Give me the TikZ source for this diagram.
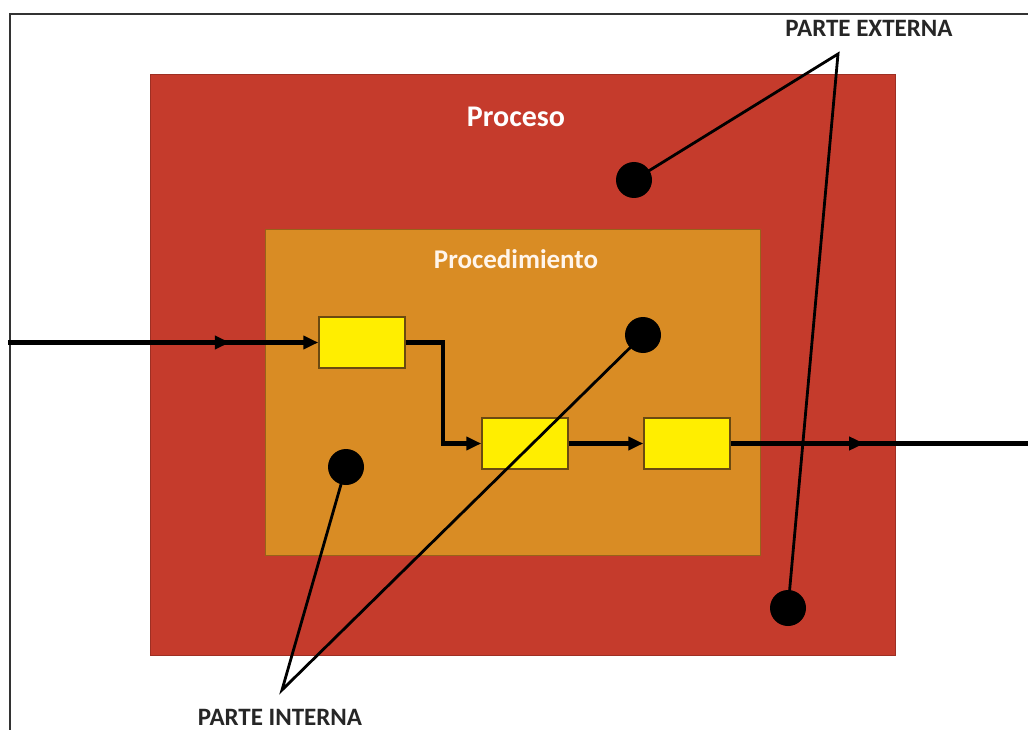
\documentclass[tikz,border=0pt]{standalone}
\usepackage{fontspec}
\setmainfont{Carlito}
\usetikzlibrary{arrows.meta,decorations.markings}
\definecolor{procred}{HTML}{C53B2C}
\definecolor{procorange}{HTML}{D98C24}
\definecolor{stepyellow}{HTML}{FFEE00}
\definecolor{stepedge}{HTML}{6B4A10}
\begin{document}
\begin{tikzpicture}[x=1pt,y=-1pt,
  stepbox/.style={draw=stepedge,line width=1.5pt,fill=stepyellow,minimum width=86pt,minimum height=51pt,inner sep=0pt},
  dot/.style={circle,fill=black,minimum size=36pt,inner sep=0pt},
  tip/.style={Triangle[length=15pt,width=13pt]},
  flow/.style={line width=4.2pt,-{Triangle[length=15pt,width=13pt]}},
  leader/.style={line width=2.8pt},
  label/.style={font=\bfseries\fontsize{25}{28}\selectfont,text=black!85},
  midarrow/.style={postaction={decorate},decoration={markings,mark=at position #1 with {\arrow{Triangle[length=15pt,width=13pt]}}}}]
\useasboundingbox (0,0) rectangle (1028,730);
\fill[white] (0,0) rectangle (1028,730);
% page frame (left and top edges only)
\draw[line width=2pt,black!80] (10,740) -- (10,14) -- (1040,14);
% process and procedure areas
\node[draw=procred!80!black,line width=1pt,fill=procred,minimum width=745pt,minimum height=580pt,inner sep=0pt] (proc) at (522.5,365) {};
\node[draw=procorange!70!black,line width=1pt,fill=procorange,minimum width=495pt,minimum height=325pt,inner sep=0pt] (pmto) at (512.5,392.5) {};
\node[text=white,font=\bfseries\fontsize{30}{34}\selectfont] (tproc) at (516,117) {Proceso};
\node[text=white!92!orange,font=\bfseries\fontsize{27}{30}\selectfont] (tpmto) at (516,259) {Procedimiento};
% activity steps
\node[stepbox] (s1) at (362,342.5) {};
\node[stepbox] (s2) at (525,443.5) {};
\node[stepbox] (s3) at (687,443.5) {};
\coordinate (in) at (8,342.5);
\coordinate (out) at (1034,443.5);
\coordinate (bend) at (443,342.5);
\draw[flow,midarrow=0.715] (in) -- (s1.west);
\draw[flow] (s1.east) -- (bend) |- (s2.west);
\draw[flow] (s2.east) -- (s3.west);
\draw[line width=4.2pt,midarrow=0.44] (s3.east) -- (out);
% markers
\node[dot] (e1) at (634,180) {};
\node[dot] (e2) at (788,608) {};
\node[dot] (i1) at (643,335) {};
\node[dot] (i2) at (346,467) {};
% callouts
\node[label] (lext) at (869,28) {PARTE EXTERNA};
\node[label] (lint) at (280,717) {PARTE INTERNA};
\coordinate (aext) at (838,54);
\coordinate (aint) at (282,690);
\draw[leader] (e1.center) -- (aext) -- (e2.center);
\draw[leader] (i2.center) -- (aint) -- (i1.center);
\end{tikzpicture}
\end{document}
